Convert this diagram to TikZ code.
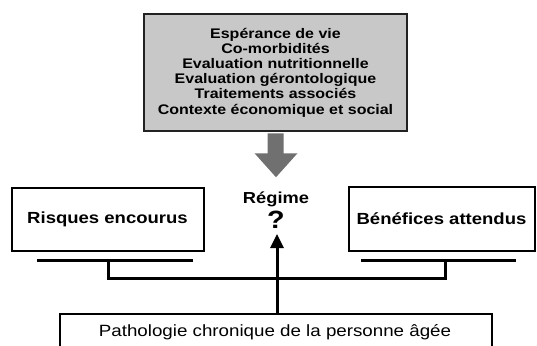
\documentclass[tikz,border=0pt]{standalone}
\usepackage{fontspec}
\setmainfont{Liberation Sans}[FakeStretch=1.15]
\usetikzlibrary{arrows.meta,calc}
\definecolor{boxgrey}{HTML}{C8C8C8}
\definecolor{arrowgrey}{HTML}{707070}
\definecolor{edgedark}{HTML}{222222}
\begin{document}
\begin{tikzpicture}[x=1pt,y=-1pt,
  greybox/.style={draw=edgedark,line width=2.5pt,fill=boxgrey,minimum width=263pt,minimum height=117pt,inner sep=0pt,align=center,font=\bfseries\fontsize{13.9}{15.2}\selectfont},
  whitebox/.style={draw=black,line width=2pt,fill=white,inner sep=0pt,align=center},
  sidefont/.style={font=\bfseries\fontsize{16.1}{19}\selectfont},
  conn/.style={line width=3pt,draw=black},
]
\useasboundingbox (0,0) rectangle (537,345);
\clip (0,0) rectangle (537,345);
\fill[white] (0,0) rectangle (537,345);

\node[greybox] (top) at (275.5,72.5) {Espérance de vie\\Co-morbidités\\Evaluation nutritionnelle\\Evaluation gérontologique\\Traitements associés\\Contexte économique et social};

\node[whitebox,sidefont,minimum width=192pt,minimum height=63pt] (risk) at (107.5,219) {Risques encourus};
\node[whitebox,sidefont,minimum width=186pt,minimum height=64pt] (bene) at (441.5,218.5) {Bénéfices attendus};
\node[whitebox,font=\fontsize{16.3}{19}\selectfont,minimum width=432pt,minimum height=40pt] (patho) at (275.5,334) {};
\node[inner sep=0pt,font=\fontsize{16.3}{19}\selectfont] (pathotext) at (275,332) {Pathologie chronique de la personne âgée};

\node[inner sep=0pt,font=\bfseries\fontsize{15.9}{18}\selectfont] (regime) at (276,199) {Régime};
\node[inner sep=0pt,font=\bfseries\fontsize{25}{28}\selectfont] (q) at (276,220) {?};

% grey block arrow
\fill[arrowgrey] ($(top.south)+(-8,1.2)$) -- ($(top.south)+(8,1.2)$) -- ($(top.south)+(8,21)$)
  -- ($(top.south)+(22,21)$) -- ($(top.south)+(0.5,45)$) -- ($(top.south)+(-21,21)$)
  -- ($(top.south)+(-8,21)$) -- cycle;

% underlines and bracket
\coordinate (rl) at (37,260);
\coordinate (rr) at (193,260);
\coordinate (bl) at (361,260);
\coordinate (br) at (516,260);
\coordinate (rm) at (108,260);
\coordinate (bm) at (445,260);
\draw[conn] (rl) -- (rr);
\draw[conn] (bl) -- (br);
\draw[conn] (rm) -- (108,278) -- (445,278) -- (bm);

% black arrow
\coordinate (tip) at (277,234);
\draw[line width=3pt,-{Triangle[length=14pt,width=13pt]}] (patho.north -| tip) -- (tip);
\end{tikzpicture}
\end{document}
